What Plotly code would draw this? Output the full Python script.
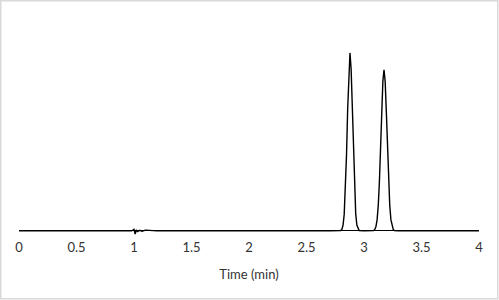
import plotly.graph_objects as go

# Chromatogram samples (time in min, signal in arbitrary units)
baseline_time = [0.0, 0.98, 1.0, 1.01, 1.02, 1.03, 1.05, 1.07, 1.10, 1.13, 1.16, 1.20, 2.70]
baseline_signal = [0, 0, 8, -18, 6, -4, 3, -2, 4, 3, -1, 0, 0]

peak1_time = [2.798, 2.808, 2.818, 2.828, 2.838, 2.848, 2.858, 2.868, 2.878,
              2.888, 2.898, 2.908, 2.918, 2.928, 2.938, 2.948, 2.958]
peak1_signal = [2, 10, 33, 94, 220, 427, 685, 910, 1000,
                910, 685, 427, 220, 94, 33, 10, 2]

between_time = [3.00, 3.05]
between_signal = [0, 0]

peak2_time = [3.084, 3.094, 3.104, 3.114, 3.124, 3.134, 3.144, 3.154, 3.164, 3.174,
              3.184, 3.194, 3.204, 3.214, 3.224, 3.234, 3.244, 3.254, 3.264]
peak2_signal = [2, 8, 24, 63, 142, 277, 465, 673, 840, 905,
                840, 673, 465, 277, 142, 63, 24, 8, 2]

tail_time = [3.30, 4.0]
tail_signal = [0, 0]

tick_values = [0, 0.5, 1, 1.5, 2, 2.5, 3, 3.5, 4]
tick_labels = ["0", "0.5", "1", "1.5", "2", "2.5", "3", "3.5", "4"]

time = baseline_time + peak1_time + between_time + peak2_time + tail_time
signal = baseline_signal + peak1_signal + between_signal + peak2_signal + tail_signal

fig = go.Figure()
fig.add_trace(go.Scatter(x=time, y=signal, mode="lines",
                         line=dict(color="black", width=1.4), showlegend=False))

L, R, T, B = 19, 20, 20, 62
W, H = 499, 300
pw, ph = W - L - R, H - T - B

fig.update_layout(
    width=W, height=H,
    margin=dict(l=L, r=R, t=T, b=B),
    paper_bgcolor="white", plot_bgcolor="white",
    font=dict(family="Lato, Open Sans, sans-serif", size=13, color="#333333"),
    xaxis=dict(range=[0, 4], tickvals=tick_values, ticktext=tick_labels,
               showgrid=False, zeroline=False, showline=False, ticks="",
               tickfont=dict(size=13),
               title=dict(text="Time (min)", standoff=15, font=dict(size=13))),
    yaxis=dict(range=[-40, 1185], showticklabels=False, showgrid=False,
               zeroline=True, zerolinecolor="black", zerolinewidth=1.2,
               showline=False, ticks=""),
    shapes=[dict(type="rect", xref="paper", yref="paper",
                 x0=(0.75 - L) / pw, x1=(W - 1.25 - L) / pw,
                 y0=(H - B - (H - 1.25)) / ph, y1=(H - B - 0.75) / ph,
                 line=dict(color="#d9d9d9", width=1.5))],
)

fig.write_html("out.html")
